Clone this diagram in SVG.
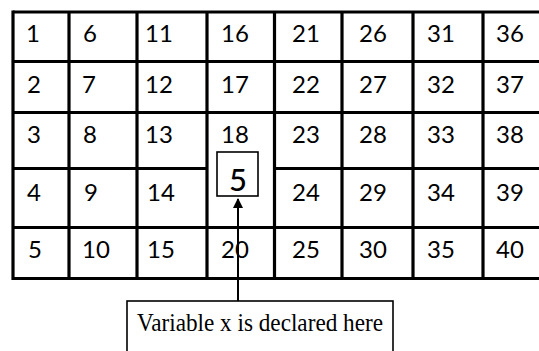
<svg xmlns="http://www.w3.org/2000/svg" width="539" height="351" viewBox="0 0 539 351">
<style>
.g{stroke:#000;stroke-width:3.2;fill:none}
.n{font-family:Lato,"Noto Sans",sans-serif;font-size:24px;fill:#000}
.lbl{font-family:"Liberation Serif","Times New Roman",serif;font-size:25px;fill:#000}
</style>
<defs>
<marker id="ah" viewBox="0 0 10 10" refX="9" refY="5" markerWidth="10" markerHeight="10" markerUnits="userSpaceOnUse" orient="auto">
<path d="M0,0 L10,5 L0,10 Z" fill="#000"/>
</marker>
</defs>
<rect width="539" height="351" fill="#fff"/>
<g id="grid" class="g">
<line x1="13" y1="12" x2="539" y2="12"/>
<line x1="13" y1="61.5" x2="539" y2="61.5"/>
<line x1="13" y1="112.5" x2="539" y2="112.5"/>
<line x1="13" y1="168.5" x2="207" y2="168.5"/>
<line x1="274.5" y1="168.5" x2="539" y2="168.5"/>
<line x1="13" y1="227.5" x2="539" y2="227.5"/>
<line x1="13" y1="278.5" x2="539" y2="278.5"/>
<line x1="13" y1="10.5" x2="13" y2="280"/>
<line x1="69" y1="12" x2="69" y2="278.5"/>
<line x1="137" y1="12" x2="137" y2="278.5"/>
<line x1="207" y1="12" x2="207" y2="278.5"/>
<line x1="274.5" y1="12" x2="274.5" y2="278.5"/>
<line x1="342" y1="12" x2="342" y2="278.5"/>
<line x1="413" y1="12" x2="413" y2="278.5"/>
<line x1="483" y1="12" x2="483" y2="278.5"/>
</g>
<g id="numbers" class="n">
<text x="26" y="42">1</text><text x="83" y="42">6</text><text x="145" y="42">11</text><text x="221" y="42">16</text><text x="292" y="42">21</text><text x="359" y="42">26</text><text x="427" y="42">31</text><text x="496" y="42">36</text>
<text x="27" y="93">2</text><text x="82" y="93">7</text><text x="145" y="93">12</text><text x="221" y="93">17</text><text x="292" y="93">22</text><text x="359" y="93">27</text><text x="427" y="93">32</text><text x="496" y="93">37</text>
<text x="27" y="143">3</text><text x="83" y="143">8</text><text x="145" y="143">13</text><text x="221" y="143">18</text><text x="292" y="143">23</text><text x="359" y="143">28</text><text x="427" y="143">33</text><text x="496" y="143">38</text>
<text x="27" y="201">4</text><text x="84" y="201">9</text><text x="147" y="201">14</text><text x="292" y="201">24</text><text x="359" y="201">29</text><text x="427" y="201">34</text><text x="496" y="201">39</text>
<text x="28" y="258">5</text><text x="82" y="258">10</text><text x="147" y="258">15</text><text x="221" y="258">20</text><text x="292" y="258">25</text><text x="359" y="258">30</text><text x="427" y="258">35</text><text x="496" y="258">40</text>
</g>
<g id="var-box">
<rect x="217" y="152" width="41" height="44" fill="#fff" stroke="#000" stroke-width="1.6"/>
<text x="238" y="191" text-anchor="middle" font-family="Lato,'Noto Sans',sans-serif" font-size="31" font-weight="500">5</text>
</g>
<g id="connectors">
<line x1="238" y1="301" x2="238" y2="199" stroke="#000" stroke-width="2" marker-end="url(#ah)"/>
</g>
<g id="label">
<rect x="127" y="301" width="266" height="60" fill="#fff" stroke="#000" stroke-width="1.6"/>
<text class="lbl" x="137" y="331" textLength="246" lengthAdjust="spacingAndGlyphs">Variable x is declared here</text>
</g>
</svg>
